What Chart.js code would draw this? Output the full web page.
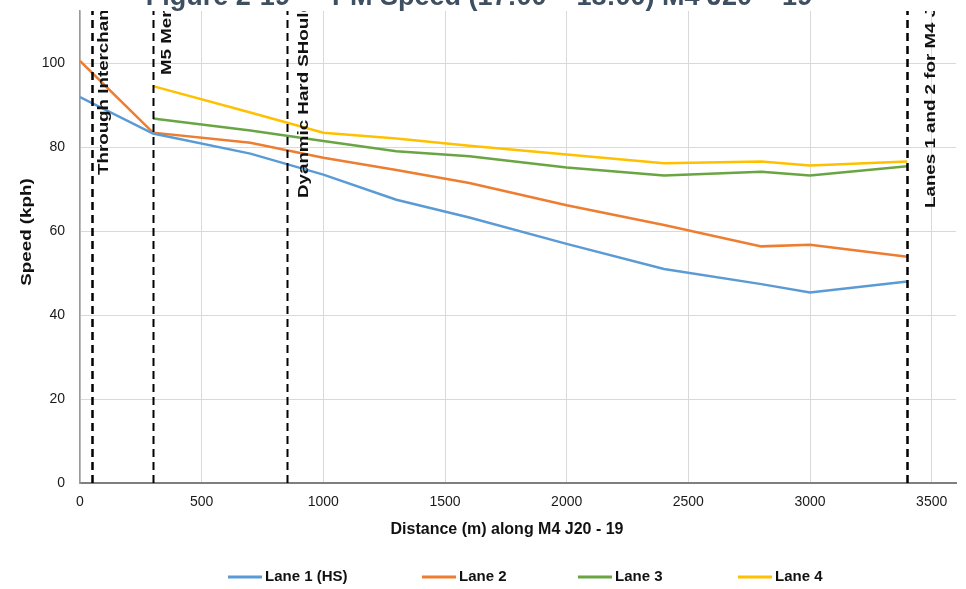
<!DOCTYPE html>
<html>
<head>
<meta charset="utf-8">
<title>PM Speed M4 J20 - 19</title>
<script src="https://cdn.jsdelivr.net/npm/chart.js@4.4.0/dist/chart.umd.min.js"></script>
<style>
    html, body { margin: 0; padding: 0; background: #fff; }
    #wrap { width: 966px; height: 589px; }
</style>
</head>
<body>
<div id="wrap"><canvas id="speedChart" width="966" height="589"></canvas></div>
<script>
// Distance along M4 J20 - 19 (m)
const distances = [0, 300, 700, 1000, 1300, 1600, 2000, 2400, 2800, 3000, 3400];

// Mean speed per lane (kph), null where the lane does not exist
const lane1 = [92, 83.3, 78.5, 73.5, 67.5, 63.3, 57, 51, 47.4, 45.4, 48];
const lane2 = [100.6, 83.5, 81.1, 77.5, 74.6, 71.5, 66.2, 61.5, 56.4, 56.8, 53.9];
const lane3 = [null, 86.9, 84, 81.5, 79.1, 77.9, 75.2, 73.3, 74.2, 73.3, 75.5];
const lane4 = [null, 94.6, 88.3, 83.5, 82.1, 80.4, 78.3, 76.2, 76.6, 75.7, 76.6];
const laneNames = ['Lane 1 (HS)', 'Lane 2', 'Lane 3', 'Lane 4'];

// Features along the link
const markerDist = [50, 300, 850, 3400];
const markerText = ['Through Interchange', 'M5 Merge', 'Dyanmic Hard SHoulder', 'Lanes 1 and 2 for M4 J19'];

// Axis ticks
const xTicks = [0, 500, 1000, 1500, 2000, 2500, 3000, 3500];
const yTicks = [0, 20, 40, 60, 80, 100];

// Styling / layout
const laneColors = ['#5b9bd5', '#ed7d31', '#6aa544', '#ffc000'];
const markerWidths = [2.5, 2, 2, 2.5];
const markerLabelLayout = [
    { dx: 12, y: 175 },
    { dx: 14, y: 75 },
    { dx: 17, y: 198 },
    { dx: 24, y: 208 }
];
const legendStarts = [228, 422, 578, 738];
const FONT = '"Liberation Sans", Arial, sans-serif';
const TITLE = 'Figure 2-19 \u2014 PM Speed (17:00 \u2013 18:00) M4 J20 \u2013 19';

function toPoints(values) {
    return distances
        .map((d, i) => ({ x: d, y: values[i] }))
        .filter(p => p.y !== null);
}

// Draw the title, marker lines, labels, y title and legend
const decorPlugin = {
    id: 'decor',
    afterDatasetsDraw(chart) {
        const { ctx, chartArea, scales } = chart;
        const xs = scales.x;

        // dashed feature lines
        ctx.save();
        ctx.strokeStyle = '#000';
        ctx.setLineDash([8, 5]);
        markerDist.forEach((d, i) => {
            const px = Math.round(xs.getPixelForValue(d)) + 0.5;
            ctx.lineWidth = markerWidths[i];
            ctx.beginPath();
            ctx.moveTo(px, chartArea.bottom);
            ctx.lineTo(px, chartArea.top);
            ctx.stroke();
        });
        ctx.restore();

        // rotated labels, clipped at the top of the plot
        ctx.save();
        ctx.beginPath();
        ctx.rect(chartArea.left, chartArea.top, chartArea.right - chartArea.left + 20, chartArea.bottom - chartArea.top);
        ctx.clip();
        ctx.fillStyle = '#111';
        ctx.font = 'bold 15px ' + FONT;
        ctx.textAlign = 'left';
        ctx.textBaseline = 'middle';
        markerText.forEach((t, i) => {
            const px = xs.getPixelForValue(markerDist[i]) + markerLabelLayout[i].dx;
            ctx.save();
            ctx.translate(px, markerLabelLayout[i].y);
            ctx.rotate(-Math.PI / 2);
            ctx.scale(1.25, 1);
            ctx.fillText(t, 0, 0);
            ctx.restore();
        });
        ctx.restore();
    },
    afterDraw(chart) {
        const { ctx } = chart;
        ctx.save();

        // chart title (cut off by the top edge)
        ctx.fillStyle = '#3e4f61';
        ctx.font = 'bold 27px ' + FONT;
        ctx.textAlign = 'center';
        ctx.textBaseline = 'alphabetic';
        ctx.fillText(TITLE, 479, 5);

        // y axis title
        ctx.fillStyle = '#111';
        ctx.font = 'bold 15px ' + FONT;
        ctx.textBaseline = 'middle';
        ctx.save();
        ctx.translate(27, 232);
        ctx.rotate(-Math.PI / 2);
        ctx.scale(1.25, 1);
        ctx.fillText('Speed (kph)', 0, 0);
        ctx.restore();

        // x axis title
        ctx.font = 'bold 16px ' + FONT;
        ctx.fillText('Distance (m) along M4 J20 - 19', 507, 530);

        // legend
        ctx.font = 'bold 15px ' + FONT;
        ctx.textAlign = 'left';
        laneNames.forEach((name, i) => {
            const x = legendStarts[i];
            ctx.strokeStyle = laneColors[i];
            ctx.lineWidth = 3;
            ctx.beginPath();
            ctx.moveTo(x, 577);
            ctx.lineTo(x + 34, 577);
            ctx.stroke();
            ctx.fillStyle = '#111';
            ctx.fillText(name, x + 37, 577);
        });
        ctx.restore();
    }
};

const lanes = [lane1, lane2, lane3, lane4];

new Chart(document.getElementById('speedChart').getContext('2d'), {
    type: 'line',
    data: {
        datasets: lanes.map((vals, i) => ({
            label: laneNames[i],
            data: toPoints(vals),
            borderColor: laneColors[i],
            backgroundColor: laneColors[i],
            borderWidth: 2.5,
            pointRadius: 0,
            tension: 0,
            fill: false
        }))
    },
    options: {
        responsive: false,
        animation: false,
        layout: { padding: { top: 11, right: 10, left: 0, bottom: 0 } },
        plugins: {
            legend: { display: false },
            tooltip: { enabled: false },
            title: { display: false }
        },
        scales: {
            x: {
                type: 'linear',
                min: 0,
                max: 3600,
                afterBuildTicks: axis => { axis.ticks = xTicks.map(v => ({ value: v })); },
                afterFit: axis => { axis.height = 106; axis.paddingLeft = 0; axis.paddingRight = 0; },
                grid: { color: '#d9d9d9', lineWidth: 1, drawTicks: false },
                border: { color: '#7f7f7f', width: 2 },
                ticks: {
                    padding: 11,
                    color: '#1a1a1a',
                    font: { family: FONT, size: 14 },
                    maxRotation: 0,
                    callback: v => String(v)
                }
            },
            y: {
                type: 'linear',
                min: 0,
                max: 112.5,
                afterBuildTicks: axis => { axis.ticks = yTicks.map(v => ({ value: v })); },
                afterFit: axis => { axis.width = 80; axis.paddingTop = 0; axis.paddingBottom = 0; },
                grid: { color: '#d9d9d9', lineWidth: 1, drawTicks: false },
                border: { color: '#9a9a9a', width: 1.5 },
                ticks: {
                    padding: 15,
                    color: '#1a1a1a',
                    font: { family: FONT, size: 14 },
                    callback: v => String(v)
                }
            }
        }
    },
    plugins: [decorPlugin]
});
</script>
</body>
</html>
